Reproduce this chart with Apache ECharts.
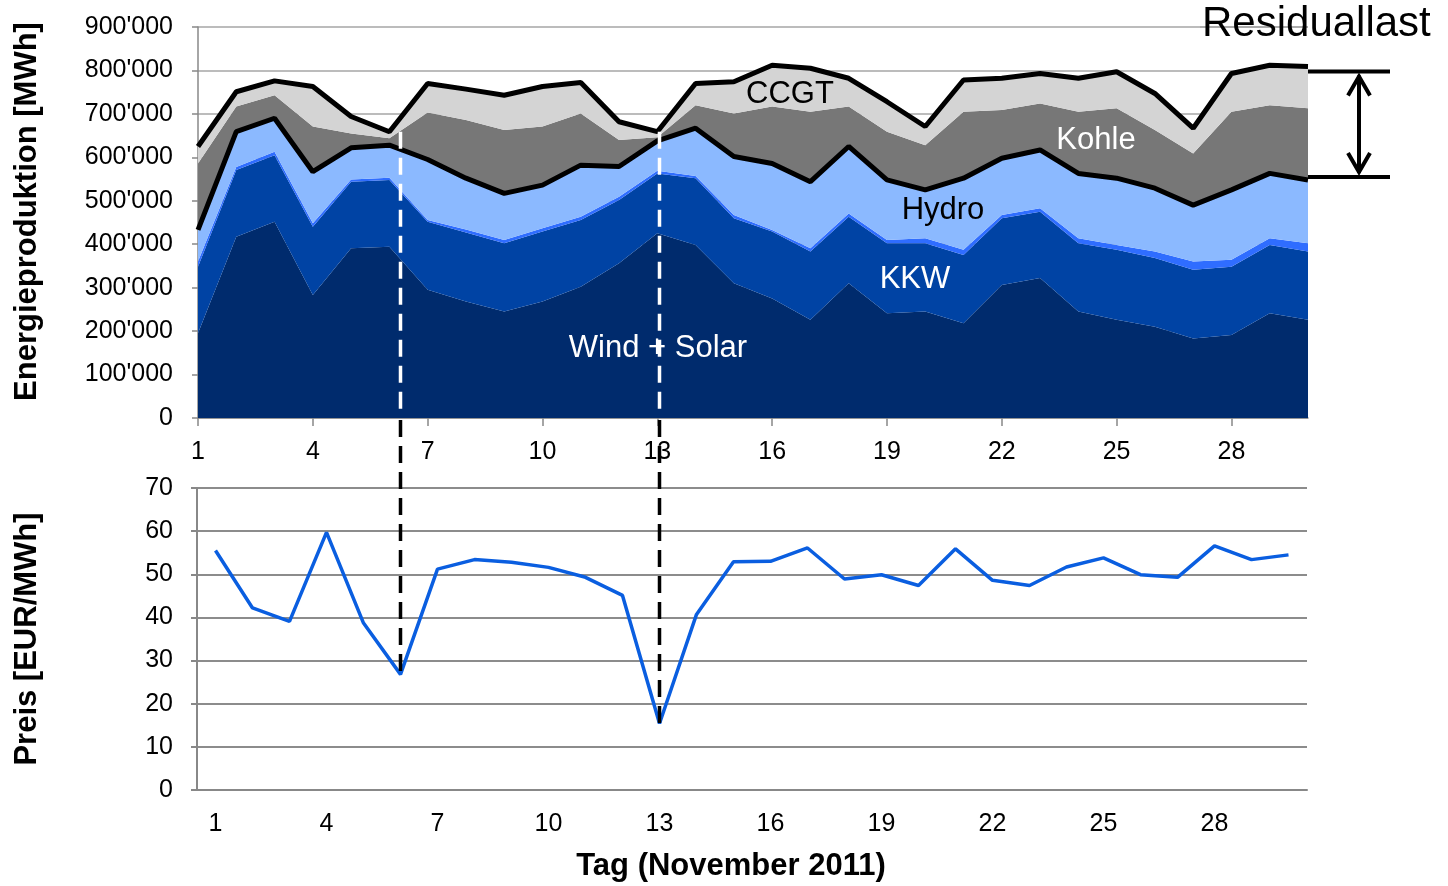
<!DOCTYPE html>
<html><head><meta charset="utf-8">
<script src="https://cdn.jsdelivr.net/npm/echarts@6/dist/echarts.min.js"></script>
<style>html,body{margin:0;padding:0;background:#fff}#c{width:1448px;height:886px}</style>
</head><body><div id="c"></div>
<script>
const days = ['1','2','3','4','5','6','7','8','9','10','11','12','13','14','15','16','17','18','19','20','21','22','23','24','25','26','27','28','29','30'];
// MWh per day
const windSolar = [195000,417000,452000,283000,391000,394000,295000,268000,245000,268000,302000,356000,425000,398000,310000,275000,226000,310000,241000,245000,218000,306000,322000,245000,226000,210000,183000,191000,241000,226000];
const kkw = [153000,154000,153000,157000,153000,154000,157000,159000,157000,161000,154000,146000,138000,154000,150000,154000,157000,153000,161000,157000,157000,154000,153000,157000,161000,158000,158000,157000,157000,157000];
const other = [12000,7000,8000,8000,5000,5000,4000,7000,8000,8000,7000,7000,6000,5000,7000,4000,8000,8000,8000,12000,12000,7000,8000,12000,11000,15000,19000,16000,16000,19000];
const hydro = [73000,81000,77000,119000,73000,75000,139000,118000,107000,99000,119000,70000,69000,110000,135000,153000,153000,154000,138000,111000,165000,131000,134000,149000,154000,146000,130000,161000,149000,146000];
const kohle = [153000,58000,53000,104000,33000,16000,108000,134000,146000,135000,119000,61000,8000,53000,99000,131000,161000,92000,111000,103000,153000,111000,107000,142000,161000,134000,119000,180000,157000,165000];
const ccgt = [39000,34000,33000,92000,39000,15000,67000,71000,80000,92000,71000,42000,13000,50000,73000,95000,100000,65000,69000,43000,73000,73000,69000,77000,84000,84000,58000,88000,92000,96000];
// EUR/MWh
const price = [55.5,42.2,39.1,59.7,38.7,26.8,51.2,53.4,52.8,51.6,49.3,45.1,15.4,40.7,52.9,53.0,56.1,48.9,49.9,47.4,55.9,48.6,47.4,51.7,53.8,49.9,49.3,56.6,53.4,54.5];
const energyTicks = [0,100000,200000,300000,400000,500000,600000,700000,800000,900000];
const priceTicks = [0,10,20,30,40,50,60,70];
const markedDays = ['6','13'];

const FONT = 'Liberation Sans, Arial, sans-serif';
const fmt = v => v === 0 ? '0' : String(v).replace(/\B(?=(\d{3})+(?!\d))/g, "'");

const chart = echarts.init(document.getElementById('c'));
function areaSeries(name, data, color, black) {
  return {
    name, type: 'line', xAxisIndex: 0, yAxisIndex: 0, stack: 'energy', data,
    symbol: 'none', silent: true, z: black ? 4 : 2,
    areaStyle: { color, opacity: 1 },
    lineStyle: black ? { color: '#000', width: 5 } : { width: 0, color },
    itemStyle: { color }
  };
}
chart.setOption({
  animation: false,
  backgroundColor: '#fff',
  textStyle: { fontFamily: FONT },
  grid: [
    { left: 198, top: 27, width: 1110, height: 391 },
    { left: 197, top: 488, width: 1110, height: 302 }
  ],
  xAxis: [
    { gridIndex: 0, type: 'category', data: days, boundaryGap: false,
      axisLine: { lineStyle: { color: '#888', width: 1.5 } },
      axisTick: { interval: 2, length: 8, lineStyle: { color: '#888', width: 1.5 } },
      axisLabel: { interval: 2, fontSize: 25, color: '#000', margin: 22, fontFamily: FONT },
      splitLine: { show: false } },
    { gridIndex: 1, type: 'category', data: days, boundaryGap: true,
      axisLine: { lineStyle: { color: '#888', width: 2 } },
      axisTick: { interval: 0, length: 8, lineStyle: { color: '#888', width: 2 } },
      axisLabel: { interval: 2, fontSize: 25, color: '#000', margin: 22, fontFamily: FONT },
      name: 'Tag (November 2011)', nameLocation: 'middle', nameGap: 61,
      nameTextStyle: { fontSize: 31, fontWeight: 'bold', color: '#000', fontFamily: FONT, padding: [0, 42, 0, 0] } }
  ],
  yAxis: [
    { gridIndex: 0, type: 'value', min: energyTicks[0], max: energyTicks[energyTicks.length - 1], interval: 100000,
      axisLine: { show: true, lineStyle: { color: '#888', width: 1.5 } },
      axisTick: { show: true, length: 6, lineStyle: { color: '#888', width: 1.5 } },
      axisLabel: { fontSize: 25, color: '#000', margin: 25, formatter: fmt, fontFamily: FONT },
      splitLine: { lineStyle: { color: '#a6a6a6', width: 1.5 } },
      name: 'Energieproduktion [MWh]', nameLocation: 'middle', nameGap: 155,
      nameTextStyle: { fontSize: 31, fontWeight: 'bold', color: '#000', fontFamily: FONT, padding: [0, 0, 0, 22] } },
    { gridIndex: 1, type: 'value', min: priceTicks[0], max: priceTicks[priceTicks.length - 1], interval: 10,
      axisLine: { show: true, lineStyle: { color: '#888', width: 2 } },
      axisTick: { show: true, length: 6, lineStyle: { color: '#888', width: 2 } },
      axisLabel: { fontSize: 25, color: '#000', margin: 24, fontFamily: FONT },
      splitLine: { lineStyle: { color: '#8c8c8c', width: 2 } },
      name: 'Preis [EUR/MWh]', nameLocation: 'middle', nameGap: 154,
      nameTextStyle: { fontSize: 31, fontWeight: 'bold', color: '#000', fontFamily: FONT } }
  ],
  series: [
    areaSeries('Wind + Solar', windSolar, '#002b6d', false),
    areaSeries('KKW', kkw, '#0043a4', false),
    areaSeries('Andere', other, '#2f6dff', false),
    areaSeries('Hydro', hydro, '#8bb9ff', true),
    areaSeries('Kohle', kohle, '#777777', false),
    areaSeries('CCGT', ccgt, '#d4d4d4', true),
    { name: 'Preis', type: 'line', xAxisIndex: 1, yAxisIndex: 1, data: price, symbol: 'none',
      lineStyle: { color: '#0a5ee0', width: 3.5 }, itemStyle: { color: '#0a5ee0' }, z: 3 }
  ]
});

// annotations derived from data through the axes
const total = days.map((d, i) => windSolar[i] + kkw[i] + other[i] + hydro[i] + kohle[i] + ccgt[i]);
const hydroTop = days.map((d, i) => windSolar[i] + kkw[i] + other[i] + hydro[i]);
const toTop = (i, v) => chart.convertToPixel({ xAxisIndex: 0, yAxisIndex: 0 }, [i, v]);
const toBot = (i, v) => chart.convertToPixel({ xAxisIndex: 1, yAxisIndex: 1 }, [i, v]);
const g = [];
const axisY = toTop(0, 0)[1];
markedDays.forEach(d => {
  const i = days.indexOf(d);
  const pb = toBot(i, price[i]);
  const pt = toTop(i, total[i]);
  g.push({ type: 'line', z: 100, shape: { x1: pb[0], y1: pt[1], x2: pb[0], y2: axisY - 2 },
    style: { stroke: '#fff', lineWidth: 3.5, lineDash: [17, 9] } });
  g.push({ type: 'line', z: 100, shape: { x1: pb[0], y1: axisY + 2, x2: pb[0], y2: pb[1] },
    style: { stroke: '#000', lineWidth: 3.5, lineDash: [17, 9] } });
});
// Residuallast bracket at the last day
const last = days.length - 1;
const pTot = toTop(last, total[last]);
const pHyd = toTop(last, hydroTop[last]);
const yT = pTot[1] + 5, yB = pHyd[1] - 3;
const x0 = pTot[0], x1 = x0 + 82, ax = x0 + 51;
g.push({ type: 'line', z: 100, shape: { x1: x0, y1: yT, x2: x1, y2: yT }, style: { stroke: '#000', lineWidth: 4 } });
g.push({ type: 'line', z: 100, shape: { x1: x0, y1: yB, x2: x1, y2: yB }, style: { stroke: '#000', lineWidth: 4 } });
g.push({ type: 'line', z: 100, shape: { x1: ax, y1: yT + 4, x2: ax, y2: yB - 4 }, style: { stroke: '#000', lineWidth: 4 } });
g.push({ type: 'polyline', z: 100, shape: { points: [[ax - 11, yT + 24], [ax, yT + 5], [ax + 11, yT + 24]] }, style: { stroke: '#000', lineWidth: 4, fill: null } });
g.push({ type: 'polyline', z: 100, shape: { points: [[ax - 11, yB - 24], [ax, yB - 5], [ax + 11, yB - 24]] }, style: { stroke: '#000', lineWidth: 4, fill: null } });
const yMax = toTop(last, energyTicks[energyTicks.length - 1])[1];
g.push({ type: 'line', z: 1, shape: { x1: x0, y1: yMax, x2: 1200, y2: yMax }, style: { stroke: '#a6a6a6', lineWidth: 1.5 } });
g.push({ type: 'text', z: 100, x: 1202, y: 24, style: { text: 'Residuallast', font: '42px ' + FONT, fill: '#000', textAlign: 'left', textVerticalAlign: 'middle' } });
// series labels inside areas
const lab = (t, x, y, c) => g.push({ type: 'text', z: 100, x, y, style: { text: t, font: '31px ' + FONT, fill: c, textAlign: 'center', textVerticalAlign: 'middle' } });
lab('CCGT', 790, 94, '#000');
lab('Kohle', 1096, 140, '#fff');
lab('Hydro', 943, 210, '#000');
lab('KKW', 915, 279, '#fff');
lab('Wind + Solar', 658, 348, '#fff');
chart.setOption({ graphic: g });
</script></body></html>
